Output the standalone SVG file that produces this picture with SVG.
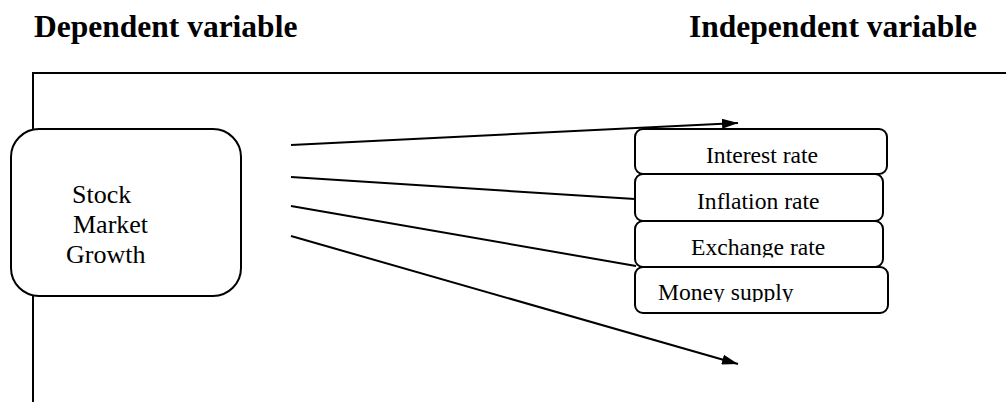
<svg xmlns="http://www.w3.org/2000/svg" width="1006" height="402" viewBox="0 0 1006 402">
  <style>
    .hdr { font-family: "Liberation Serif", "Times New Roman", serif; font-weight: bold; font-size: 31.5px; fill: #000; }
    .lbl { font-family: "Liberation Serif", "Times New Roman", serif; font-size: 23.6px; fill: #000; }
    .main { font-family: "Liberation Serif", "Times New Roman", serif; font-size: 26px; fill: #000; }
    .box { fill: #fff; stroke: #000; stroke-width: 2; }
    .frame { fill: none; stroke: #000; stroke-width: 2; }
    .conn { fill: none; stroke: #000; stroke-width: 2; }
  </style>
  <defs>
    <marker id="arrow" viewBox="0 0 16 10" refX="16" refY="5" markerWidth="16" markerHeight="10" markerUnits="userSpaceOnUse" orient="auto">
      <path d="M0,0 L16,5 L0,10 Z" fill="#000"/>
    </marker>
    <clipPath id="clipEx"><rect x="636" y="222" width="248" height="35.5"/></clipPath>
    <clipPath id="clipMs"><rect x="636" y="268" width="252" height="34"/></clipPath>
  </defs>
  <rect width="1006" height="402" fill="#fff"/>

  <g id="headers">
    <text class="hdr" x="34" y="37">Dependent variable</text>
    <text class="hdr" x="977" y="37" text-anchor="end">Independent variable</text>
  </g>

  <g id="frame">
    <path class="frame" d="M33,402 L33,73 L1006,73"/>
  </g>

  <g id="connectors">
    <path class="conn" d="M291,145 L738,123" marker-end="url(#arrow)"/>
    <path class="conn" d="M291,177 L635,199"/>
    <path class="conn" d="M291,206 L636,266"/>
    <path class="conn" d="M291,236 L738,364" marker-end="url(#arrow)"/>
  </g>

  <g id="stock-market-growth">
    <rect class="box" x="11" y="129" width="230" height="167" rx="28" ry="28"/>
    <text class="main" x="72" y="203">Stock</text>
    <text class="main" x="73" y="233">Market</text>
    <text class="main" x="66" y="263">Growth</text>
  </g>

  <g id="interest-rate">
    <rect class="box" x="635" y="129" width="252" height="45" rx="8" ry="8"/>
    <text class="lbl" x="706" y="163">Interest rate</text>
  </g>
  <g id="inflation-rate">
    <rect class="box" x="635" y="174" width="248" height="47" rx="8" ry="8"/>
    <text class="lbl" x="697" y="209">Inflation rate</text>
  </g>
  <g id="exchange-rate">
    <rect class="box" x="635" y="221" width="248" height="46" rx="8" ry="8"/>
    <text class="lbl" x="691" y="255" clip-path="url(#clipEx)">Exchange rate</text>
  </g>
  <g id="money-supply">
    <rect class="box" x="635" y="267" width="253" height="46" rx="8" ry="8"/>
    <text class="lbl" x="658" y="299.5" clip-path="url(#clipMs)">Money supply</text>
  </g>
</svg>
